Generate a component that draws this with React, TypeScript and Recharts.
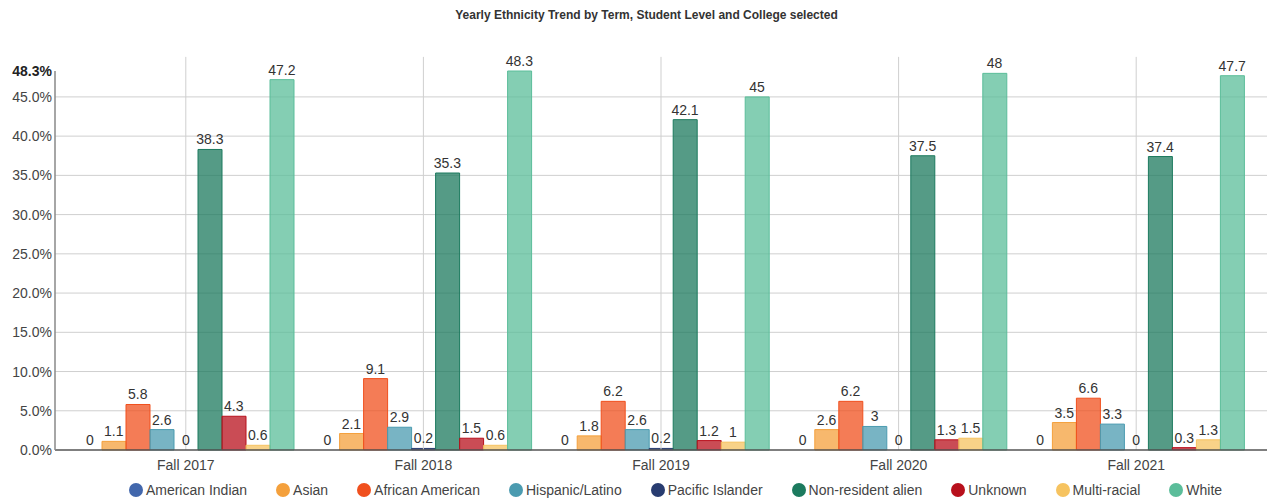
import { ComposedChart, Bar, Scatter, XAxis, YAxis, CartesianGrid, Legend, ReferenceLine } from 'recharts';

const FONT = 'Arial, "Liberation Sans", sans-serif';
const BAR_W = 24;

const terms = ['Fall 2017', 'Fall 2018', 'Fall 2019', 'Fall 2020', 'Fall 2021'];

const americanIndian = [0, 0, 0, 0, 0];
const asian = [1.1, 2.1, 1.8, 2.6, 3.5];
const africanAmerican = [5.8, 9.1, 6.2, 6.2, 6.6];
const hispanicLatino = [2.6, 2.9, 2.6, 3, 3.3];
const pacificIslander = [0, 0.2, 0.2, 0, 0];
const nonResident = [38.3, 35.3, 42.1, 37.5, 37.4];
const unknown = [4.3, 1.5, 1.2, 1.3, 0.3];
const multiRacial = [0.6, 0.6, 1, 1.5, 1.3];
const white = [47.2, 48.3, 45, 48, 47.7];

const yTicks = [0, 5, 10, 15, 20, 25, 30, 35, 40, 45, 48.3];
const yMax = 48.3;

const series = [
  { key: 'American Indian', values: americanIndian, color: '#4267ac' },
  { key: 'Asian', values: asian, color: '#f4a03c' },
  { key: 'African American', values: africanAmerican, color: '#f0501e' },
  { key: 'Hispanic/Latino', values: hispanicLatino, color: '#4b9bb0' },
  { key: 'Pacific Islander', values: pacificIslander, color: '#283c70' },
  { key: 'Non-resident alien', values: nonResident, color: '#1c7a5e' },
  { key: 'Unknown', values: unknown, color: '#b8101c' },
  { key: 'Multi-racial', values: multiRacial, color: '#f6c360' },
  { key: 'White', values: white, color: '#5bbd9a' },
];

const data = terms.map((term, i) => {
  const row: Record<string, string | number> = { term };
  series.forEach((s) => { row[s.key] = s.values[i]; });
  return row;
});

function YTick({ x, y, payload }: any) {
  const top = payload.value === yMax;
  return (
    <text x={x} y={y} dy="0.355em" textAnchor="end" fontSize={14} fontFamily={FONT}
      fill={top ? '#222' : '#444'} fontWeight={top ? 'bold' : 'normal'}>
      {payload.value.toFixed(1)}%
    </text>
  );
}

// LabelList skips zero-height bars, so the values are drawn as scatter "points"
// shifted sideways onto their bar within the group
const valueLabel = (key: string, idx: number) => (p: any) => {
  const dx = (idx - (series.length - 1) / 2) * BAR_W;
  return (
    <text x={p.cx + dx} y={p.cy - 5} textAnchor="middle" fontSize={14} fontFamily={FONT} fill="#333">
      {p.payload[key]}
    </text>
  );
};

function LegendRow() {
  return (
    <div style={{ display: 'flex', justifyContent: 'center', gap: 29, paddingLeft: 84, paddingTop: 8, fontFamily: FONT, fontSize: 14, color: '#444' }}>
      {series.map((s) => (
        <span key={s.key} style={{ display: 'flex', alignItems: 'center' }}>
          <span style={{ width: 14, height: 14, borderRadius: 7, background: s.color, marginRight: 3 }} />
          {s.key}
        </span>
      ))}
    </div>
  );
}

export default function App() {
  return (
    <div style={{ position: 'relative', width: 1267, height: 503, background: '#fff' }}>
      <style>{'body{margin:0}'}</style>
      <div style={{ position: 'absolute', top: 8, left: 0, width: 1267, paddingLeft: 26, boxSizing: 'border-box', textAlign: 'center', fontFamily: FONT, fontSize: 12, fontWeight: 'bold', color: '#333', zIndex: 1 }}>
        Yearly Ethnicity Trend by Term, Student Level and College selected
      </div>
      <ComposedChart width={1267} height={503} data={data} margin={{ top: 71, right: 0, left: 0, bottom: 0 }} barGap={0}>
        <CartesianGrid vertical={false} stroke="#cfcfcf" horizontalValues={[5, 10, 15, 20, 25, 30, 35, 40, 45]} />
        {terms.map((t) => (
          <ReferenceLine key={t} segment={[{ x: t, y: 0 }, { x: t, y: 50.1 }]} ifOverflow="visible" stroke="#cfcfcf" />
        ))}
        <XAxis dataKey="term" height={24} padding={{ left: 12, right: 12 }} tickLine={false} tickMargin={4}
          axisLine={{ stroke: '#555', strokeWidth: 1.5 }} tick={{ fontSize: 14, fill: '#444', fontFamily: FONT }} />
        <YAxis width={55} domain={[0, yMax]} ticks={yTicks} interval={0} tickLine={false} tickSize={0} tickMargin={3}
          axisLine={{ stroke: '#888', strokeWidth: 1.5 }} tick={<YTick />} />
        <Legend verticalAlign="bottom" height={29} content={() => <LegendRow />} />
        {series.map((s) => (
          <Bar key={s.key} dataKey={s.key} barSize={BAR_W} fill={s.color} fillOpacity={0.75} stroke={s.color} isAnimationActive={false} />
        ))}
        {series.map((s, i) => (
          <Scatter key={`lbl-${s.key}`} dataKey={s.key} shape={valueLabel(s.key, i)} legendType="none" isAnimationActive={false} />
        ))}
      </ComposedChart>
    </div>
  );
}
